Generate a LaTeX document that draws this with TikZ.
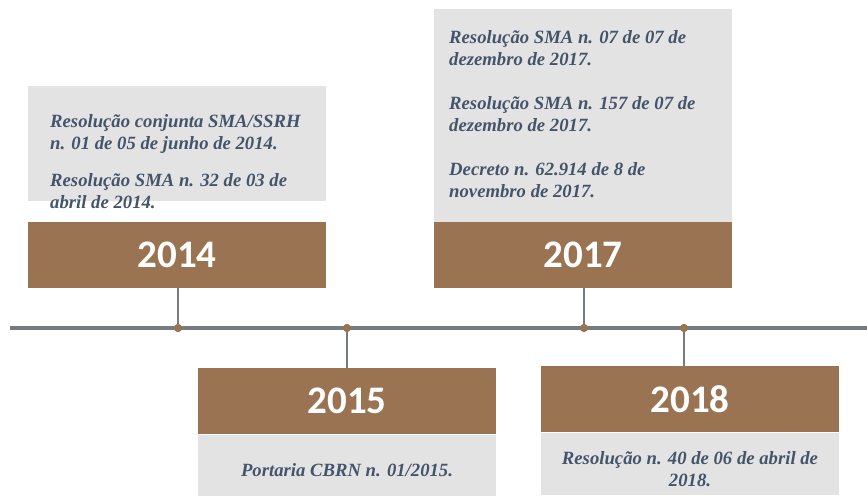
\documentclass[tikz,border=0pt]{standalone}
\usepackage{fontspec}
\setmainfont{Liberation Serif}
\newfontfamily\anofont{Carlito}
\usetikzlibrary{positioning}

\definecolor{marrom}{HTML}{9A7452}
\definecolor{cinza}{HTML}{E3E3E3}
\definecolor{linha}{HTML}{767B80}
\definecolor{texto}{HTML}{44546A}

\tikzset{
  ano/.style={fill=marrom, minimum width=298pt, minimum height=66pt, inner sep=0pt, outer sep=0pt,
    text=white, font=\anofont\bfseries\fontsize{39}{39}\selectfont},
  caixa/.style={fill=cinza, minimum width=298pt, inner sep=0pt, outer sep=0pt},
  nota/.style={text=texto, font=\bfseries\itshape\fontsize{18.7}{22}\selectfont, inner sep=0pt},
  marco/.style={circle, fill=marrom, inner sep=0pt, minimum size=8pt},
  haste/.style={linha, line width=2pt},
}

\begin{document}
\begin{tikzpicture}[x=1pt, y=-1pt]
  \useasboundingbox (0,0) rectangle (867,498);

  % caixas cinza
  \node[caixa, minimum height=115pt, anchor=north west] (c2014) at (28,86) {};
  \node[caixa, minimum height=213pt, anchor=north west] (c2017) at (434,9) {};
  \node[caixa, minimum height=61pt, anchor=north west] (c2015) at (198,435) {};
  \node[caixa, minimum height=62pt, anchor=north west] (c2018) at (541,433) {};

  % anos
  \node[ano, anchor=north west] (a2014) at (28,222) {2014};
  \node[ano, anchor=north west] (a2017) at (434,222) {2017};
  \node[ano, anchor=north west] (a2015) at (198,368) {2015};
  \node[ano, anchor=north west] (a2018) at (541,366) {2018};

  % linha do tempo
  \coordinate (ini) at (10,328);
  \coordinate (fim) at (867,328);
  \draw[linha, line width=4pt] (ini) -- (fim);
  \node[marco] (m2014) at (178,328) {};
  \node[marco] (m2015) at (347,328) {};
  \node[marco] (m2017) at (584,328) {};
  \node[marco] (m2018) at (684,328) {};
  \draw[haste] (m2014.center) -- (m2014 |- a2014.south);
  \draw[haste] (m2017.center) -- (m2017 |- a2017.south);
  \draw[haste] (m2015.center) -- (m2015 |- a2015.north);
  \draw[haste] (m2018.center) -- (m2018 |- a2018.north);
  \node[marco] at (m2014) {};
  \node[marco] at (m2015) {};
  \node[marco] at (m2017) {};
  \node[marco] at (m2018) {};

  % textos (ancorados na linha de base da última linha)
  \node[nota, align=left, anchor=base west] (t2014) at (50,208)
    {Resolução conjunta SMA/SSRH\\ n. 01 de 05 de junho de 2014.\\[15pt]
     Resolução SMA n. 32 de 03 de\\ abril de 2014.};
  \node[nota, align=left, anchor=base west] (t2017) at (449,197)
    {Resolução SMA n. 07 de 07 de\\ dezembro de 2017.\\[22pt]
     Resolução SMA n. 157 de 07 de\\ dezembro de 2017.\\[22pt]
     Decreto n. 62.914 de 8 de\\ novembro de 2017.};
  \node[nota, anchor=base] (t2015) at (347,476) {Portaria CBRN n. 01/2015.};
  \node[nota, align=center, anchor=base] (t2018) at (690,486)
    {Resolução n. 40 de 06 de abril de\\ 2018.};
\end{tikzpicture}
\end{document}
